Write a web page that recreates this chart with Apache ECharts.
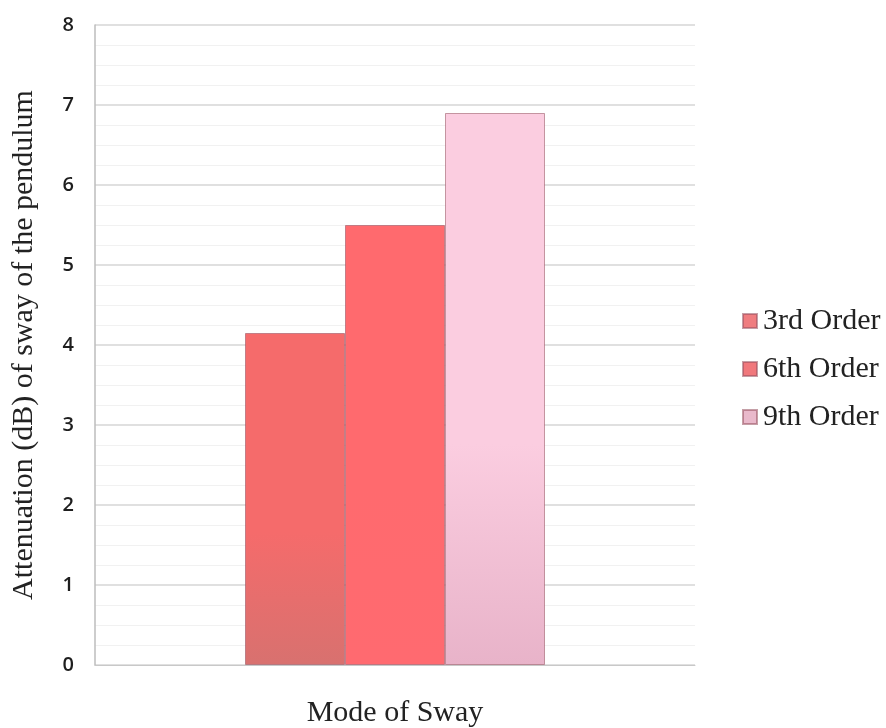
<!DOCTYPE html>
<html>
<head>
<meta charset="utf-8">
<script src="https://cdn.jsdelivr.net/npm/echarts@6/dist/echarts.min.js"></script>
<style>
  html, body { margin: 0; padding: 0; background: #ffffff; }
  #chart { width: 886px; height: 728px; }
</style>
</head>
<body>
<div id="chart"></div>
<script>
// Attenuation of pendulum sway for each filter order
const categories = ['Mode of Sway'];
const seriesNames = ['3rd Order', '6th Order', '9th Order'];
const attenuation3rd = [4.15];
const attenuation6th = [5.5];
const attenuation9th = [6.9];
const yTicks = [0, 1, 2, 3, 4, 5, 6, 7, 8];

function grad(top, bottom) {
  return new echarts.graphic.LinearGradient(0, 0, 0, 1, [
    { offset: 0, color: top },
    { offset: 0.6, color: top },
    { offset: 1, color: bottom }
  ]);
}

const serif = '"Liberation Serif", "Times New Roman", serif';
const sans = '"Open Sans", "Liberation Sans", sans-serif';

const chart = echarts.init(document.getElementById('chart'), null, { renderer: 'canvas' });

const barStyles = [
  { color: grad('#f56b6b', '#d8716f'), legend: '#ef7d80' },
  { color: grad('#ff6a6e', '#ff6a70'), legend: '#f0787c' },
  { color: grad('#fbcde0', '#e8b3c9'), legend: '#e9b9cb' }
];
const values = [attenuation3rd, attenuation6th, attenuation9th];

chart.setOption({
  animation: false,
  backgroundColor: '#ffffff',
  grid: {
    left: 95, right: 191, top: 25, bottom: 63,
    containLabel: false,
    outerBoundsMode: 'none'
  },
  legend: {
    orient: 'vertical',
    left: 737,
    top: 301,
    itemWidth: 14,
    itemHeight: 14,
    itemGap: 18,
    icon: 'rect',
    textStyle: { fontFamily: serif, fontSize: 30, color: '#222222', padding: [0, 0, 0, 1] },
    data: seriesNames.map((n, i) => ({ name: n, itemStyle: { color: barStyles[i].legend } }))
  },
  xAxis: {
    type: 'category',
    data: categories,
    name: 'Mode of Sway',
    nameLocation: 'middle',
    nameGap: 33,
    nameTextStyle: { fontFamily: serif, fontSize: 30, color: '#222222', verticalAlign: 'top' },
    axisLabel: { show: false },
    axisTick: { show: false },
    axisLine: { show: true, lineStyle: { color: '#c8c8c8', width: 1 } }
  },
  yAxis: {
    type: 'value',
    min: 0,
    max: 8,
    interval: 1,
    name: 'Attenuation (dB) of sway of the pendulum',
    nameLocation: 'middle',
    nameGap: 56,
    nameTextStyle: { fontFamily: serif, fontSize: 30, color: '#222222' },
    axisLabel: {
      fontFamily: sans, fontSize: 20, fontWeight: 600, color: '#1e1e1e', margin: 21,
      formatter: v => (yTicks.includes(v) ? String(v) : '')
    },
    axisLine: { show: true, lineStyle: { color: '#bdbdbd', width: 1.5 } },
    axisTick: { show: false },
    splitLine: { show: true, lineStyle: { color: '#d6d6d6', width: 1.5 } },
    minorTick: { show: false, splitNumber: 4 },
    minorSplitLine: { show: true, lineStyle: { color: '#f1f1f1', width: 1 } }
  },
  series: seriesNames.map((name, i) => ({
    name: name,
    type: 'bar',
    data: values[i],
    barGap: '0%',
    barCategoryGap: '50%',
    itemStyle: {
      color: barStyles[i].color,
      borderColor: 'rgba(150,80,95,0.55)',
      borderWidth: 1
    }
  }))
});
</script>
</body>
</html>
